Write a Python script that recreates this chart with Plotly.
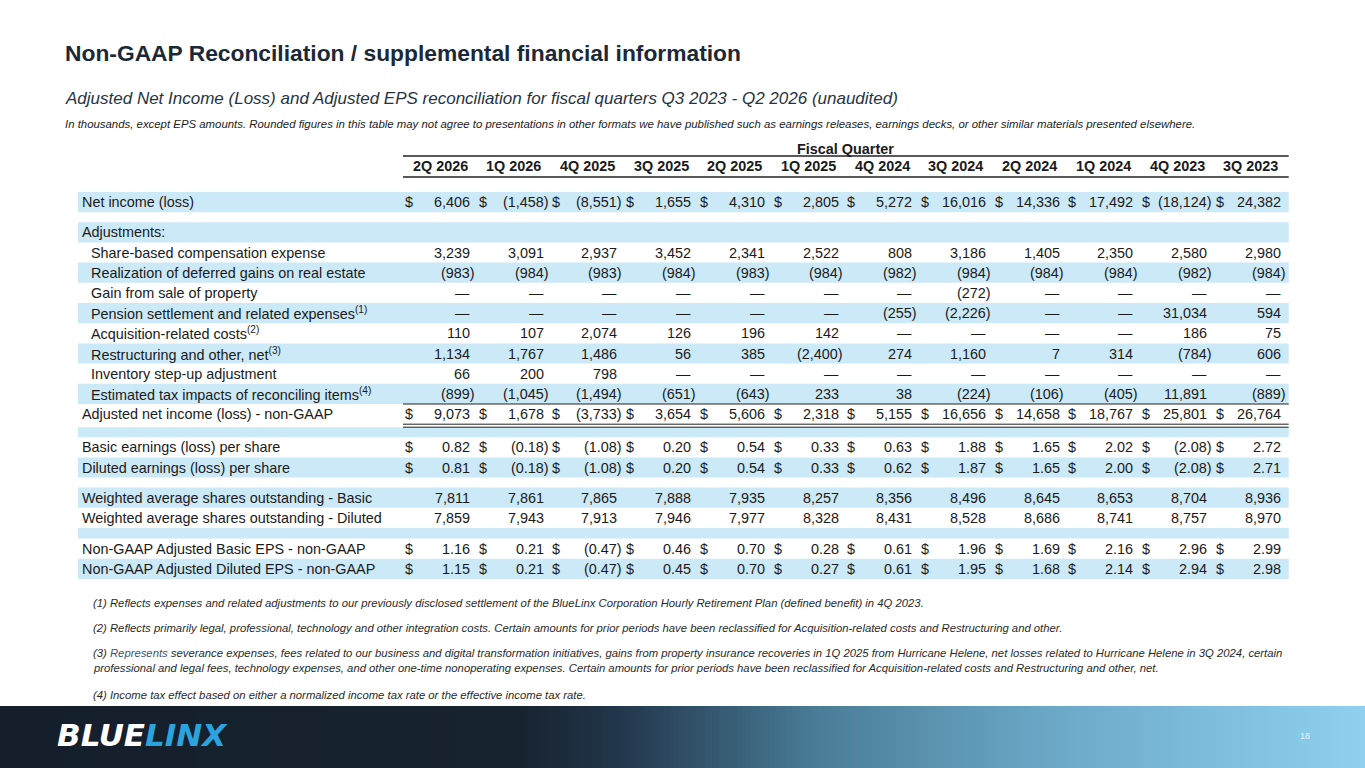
import numpy as np
import plotly.graph_objects as go

# ---- data (in thousands, except EPS) ----
quarters = ["2Q 2026", "1Q 2026", "4Q 2025", "3Q 2025", "2Q 2025", "1Q 2025",
            "4Q 2024", "3Q 2024", "2Q 2024", "1Q 2024", "4Q 2023", "3Q 2023"]

net_income = [6406, -1458, -8551, 1655, 4310, 2805, 5272, 16016, 14336, 17492, -18124, 24382]
share_based_comp = [3239, 3091, 2937, 3452, 2341, 2522, 808, 3186, 1405, 2350, 2580, 2980]
deferred_gains = [-983, -984, -983, -984, -983, -984, -982, -984, -984, -984, -982, -984]
gain_sale_property = [None, None, None, None, None, None, None, -272, None, None, None, None]
pension_settlement = [None, None, None, None, None, None, -255, -2226, None, None, 31034, 594]
acquisition_costs = [110, 107, 2074, 126, 196, 142, None, None, None, None, 186, 75]
restructuring = [1134, 1767, 1486, 56, 385, -2400, 274, 1160, 7, 314, -784, 606]
inventory_step_up = [66, 200, 798, None, None, None, None, None, None, None, None, None]
tax_impacts = [-899, -1045, -1494, -651, -643, 233, 38, -224, -106, -405, 11891, -889]
adjusted_net_income = [9073, 1678, -3733, 3654, 5606, 2318, 5155, 16656, 14658, 18767, 25801, 26764]
basic_eps = [0.82, -0.18, -1.08, 0.20, 0.54, 0.33, 0.63, 1.88, 1.65, 2.02, -2.08, 2.72]
diluted_eps = [0.81, -0.18, -1.08, 0.20, 0.54, 0.33, 0.62, 1.87, 1.65, 2.00, -2.08, 2.71]
shares_basic = [7811, 7861, 7865, 7888, 7935, 8257, 8356, 8496, 8645, 8653, 8704, 8936]
shares_diluted = [7859, 7943, 7913, 7946, 7977, 8328, 8431, 8528, 8686, 8741, 8757, 8970]
adj_basic_eps = [1.16, 0.21, -0.47, 0.46, 0.70, 0.28, 0.61, 1.96, 1.69, 2.16, 2.96, 2.99]
adj_diluted_eps = [1.15, 0.21, -0.47, 0.45, 0.70, 0.27, 0.61, 1.95, 1.68, 2.14, 2.94, 2.98]

footnotes = [
    "(1) Reflects expenses and related adjustments to our previously disclosed settlement of the BlueLinx Corporation Hourly Retirement Plan (defined benefit) in 4Q 2023.",
    "(2) Reflects primarily legal, professional, technology and other integration costs. Certain amounts for prior periods have been reclassified for Acquisition-related costs and Restructuring and other.",
    "(3) <span style='color:#3C5478'>Represents</span> severance expenses, fees related to our business and digital transformation initiatives, gains from property insurance recoveries in 1Q 2025 from Hurricane Helene, net losses related to Hurricane Helene in 3Q 2024, certain",
    "professional and legal fees, technology expenses, and other one-time nonoperating expenses. Certain amounts for prior periods have been reclassified for Acquisition-related costs and Restructuring and other, net.",
    "(4) Income tax effect based on either a normalized income tax rate or the effective income tax rate.",
]

# ---- styling ----
FONT = "Liberation Sans, Arial, sans-serif"
INK = "#1a1a1a"
BAND = "#CCE9F8"
W, H = 1365, 768
FS = 14.4          # table font size

# table geometry (pixel-like axis units)
HDR_C = [440 + 73.7 * i for i in range(12)]     # header centres
COL_RIGHT = [c + 32 for c in HDR_C]              # right edge of numbers
DOLLAR_X = [c - 31 for c in HDR_C]               # accounting "$" column
PAREN = 4.8
ROW_H = 20.2
TABLE_RIGHT = COL_RIGHT[-1] + 6
LINE_LEFT = DOLLAR_X[0] - 6


def fmt_int(v):
    if v is None:
        return "—"
    s = f"{abs(v):,}"
    return f"({s})" if v < 0 else s


def fmt_eps(v):
    s = f"{abs(v):.2f}"
    return f"({s})" if v < 0 else s


# label, values, formatter, dollar, indent, shaded, height
rows = [
    ("Net income (loss)", net_income, fmt_int, True, 0, True, ROW_H),
    (None, None, None, False, 0, False, 10),
    ("Adjustments:", None, None, False, 0, True, ROW_H),
    ("Share-based compensation expense", share_based_comp, fmt_int, False, 1, False, ROW_H),
    ("Realization of deferred gains on real estate", deferred_gains, fmt_int, False, 1, True, ROW_H),
    ("Gain from sale of property", gain_sale_property, fmt_int, False, 1, False, ROW_H),
    ("Pension settlement and related expenses<sup>(1)</sup>", pension_settlement, fmt_int, False, 1, True, ROW_H),
    ("Acquisition-related costs<sup>(2)</sup>", acquisition_costs, fmt_int, False, 1, False, ROW_H),
    ("Restructuring and other, net<sup>(3)</sup>", restructuring, fmt_int, False, 1, True, ROW_H),
    ("Inventory step-up adjustment", inventory_step_up, fmt_int, False, 1, False, ROW_H),
    ("Estimated tax impacts of reconciling items<sup>(4)</sup>", tax_impacts, fmt_int, False, 1, True, ROW_H),
    ("Adjusted net income (loss) - non-GAAP", adjusted_net_income, fmt_int, True, 0, False, ROW_H),
    (None, None, None, False, 0, False, 3),
    (None, None, None, False, 0, True, 10),
    ("Basic earnings (loss) per share", basic_eps, fmt_eps, True, 0, False, ROW_H),
    ("Diluted earnings (loss) per share", diluted_eps, fmt_eps, True, 0, True, ROW_H),
    (None, None, None, False, 0, False, 10),
    ("Weighted average shares outstanding - Basic", shares_basic, fmt_int, False, 0, True, ROW_H),
    ("Weighted average shares outstanding - Diluted", shares_diluted, fmt_int, False, 0, False, ROW_H),
    (None, None, None, False, 0, True, 10.5),
    ("Non-GAAP Adjusted Basic EPS - non-GAAP", adj_basic_eps, fmt_eps, True, 0, False, ROW_H),
    ("Non-GAAP Adjusted Diluted EPS - non-GAAP", adj_diluted_eps, fmt_eps, True, 0, True, ROW_H),
]

fig = go.Figure()
annots = []
shapes = []


def txt(x, y, text, size=FS, anchor="left", color=INK, family=FONT):
    annots.append(dict(x=x, y=y, xref="x", yref="y", text=text, showarrow=False,
                       xanchor=anchor, yanchor="middle",
                       font=dict(family=family, size=size, color=color)))


# bottom banner as a gradient heatmap
n_steps = 300
fig.add_trace(go.Heatmap(
    z=[np.linspace(0, 1, n_steps)], x=np.linspace(0, W, n_steps + 1), y=[706, H],
    colorscale=[[0, "#141F2B"], [0.38, "#17232F"], [0.45, "#21354A"], [0.6, "#4A7D98"],
                [0.75, "#68A3C2"], [0.9, "#80BFDE"], [1, "#8FD0EF"]],
    showscale=False, hoverinfo="skip", zsmooth=False))

# titles
txt(63, 53, "<b>Non-GAAP Reconciliation / supplemental financial information</b>", size=22.8, color="#1B2838")
txt(63, 98, "<i>Adjusted Net Income (Loss) and Adjusted EPS reconciliation for fiscal quarters Q3 2023 - Q2 2026 (unaudited)</i>",
    size=17, color="#253445")
txt(63, 124, "<i>In thousands, except EPS amounts. Rounded figures in this table may not agree to presentations in other formats we have published such as earnings releases, earnings decks, or other similar materials presented elsewhere.</i>",
    size=11.4, color="#222222")

# header
txt((HDR_C[0] + HDR_C[-1]) / 2, 149, "<b>Fiscal Quarter</b>", anchor="center")
for q, xc in zip(quarters, HDR_C):
    txt(xc, 166, f"<b>{q}</b>", anchor="center")
for yl in (156, 177):
    shapes.append(dict(type="line", xref="x", yref="y", x0=LINE_LEFT, x1=TABLE_RIGHT, y0=yl, y1=yl,
                       line=dict(color="#222222", width=1.6)))

# body rows
y = 192
for label, vals, fmt, dollar, indent, shaded, h in rows:
    yc = y + h / 2
    if shaded:
        shapes.append(dict(type="rect", xref="x", yref="y", x0=78, x1=TABLE_RIGHT, y0=y, y1=y + h,
                           fillcolor=BAND, line=dict(width=0), layer="below"))
    if label:
        txt(80 + 9 * indent, yc, label)
    if vals is not None:
        for i, v in enumerate(vals):
            s = fmt(v)
            xr = COL_RIGHT[i] + (PAREN if s.endswith(")") else 0)
            txt(xr, yc, s, anchor="right")
            if dollar:
                txt(DOLLAR_X[i], yc, "$", anchor="center")
    if label and label.startswith("Estimated tax"):
        shapes.append(dict(type="line", xref="x", yref="y", x0=LINE_LEFT, x1=TABLE_RIGHT, y0=y + h, y1=y + h,
                           line=dict(color="#222222", width=1)))
    if label and label.startswith("Adjusted net income"):
        for yl in (y + h, y + h + 3):
            shapes.append(dict(type="line", xref="x", yref="y", x0=LINE_LEFT, x1=TABLE_RIGHT, y0=yl, y1=yl,
                               line=dict(color="#222222", width=1)))
    y += h

# footnotes
for note, yn in zip(footnotes, [603, 628, 653, 668, 695]):
    txt(91, yn, f"<i>{note}</i>", size=11.3, color="#2a2a2a")

# logo and page number
txt(55, 735, "<b><i>BLUE<span style='color:#2AA3DF'>LINX</span></i></b>", size=31,
    color="#FFFFFF", family="DejaVu Sans, sans-serif")
txt(1305, 736, "18", size=9, anchor="center", color="#E6F3FA")

fig.update_layout(
    width=W, height=H, margin=dict(l=0, r=0, t=0, b=0),
    paper_bgcolor="white", plot_bgcolor="white",
    xaxis=dict(range=[0, W], visible=False, fixedrange=True),
    yaxis=dict(range=[H, 0], visible=False, fixedrange=True),
    annotations=annots, shapes=shapes, showlegend=False,
)

# page body has a default 8px margin; remove it so the slide fills the window
fig.write_html("out.html", config={"displayModeBar": False},
               post_script="document.body.style.margin='0';")
